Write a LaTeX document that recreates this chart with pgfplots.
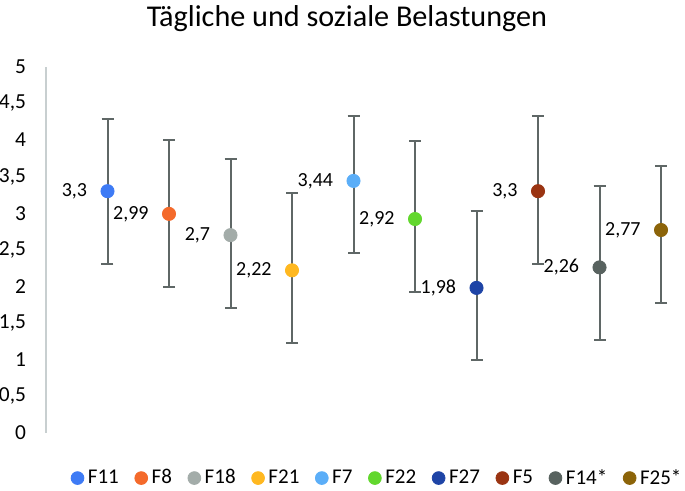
\documentclass[border=0pt]{standalone}
\usepackage{fontspec}
\setmainfont{Carlito}
\usepackage{pgfplots}
\pgfplotsset{compat=1.18}
\definecolor{cF11}{HTML}{3E7BF5}
\definecolor{cF8}{HTML}{F46A2B}
\definecolor{cF18}{HTML}{A3ACA9}
\definecolor{cF21}{HTML}{FFB820}
\definecolor{cF7}{HTML}{5BAEF8}
\definecolor{cF22}{HTML}{62D72E}
\definecolor{cF27}{HTML}{1E44A6}
\definecolor{cF5}{HTML}{9A3412}
\definecolor{cF14}{HTML}{58625F}
\definecolor{cF25}{HTML}{8C6409}
\definecolor{errgray}{HTML}{5F6766}
\definecolor{axisgray}{HTML}{C8CFD0}
\pgfplotsset{
  pt/.style={only marks, mark=*, mark size=3.3pt, color=#1, mark options={fill=#1, draw=#1},
    nodes near coords={\pgfmathprintnumber{\pgfplotspointmeta}},
    point meta=y,
    every node near coord/.append style={anchor=east, xshift=-6.7pt, text=black,
      font=\fontsize{10}{12}\selectfont,
      /pgf/number format/.cd, use comma, assume math mode=true}}
}
\begin{document}
\begin{tikzpicture}
\begin{axis}[
  scale only axis, width=319.5pt, height=183.2pt,
  xmin=0, xmax=10.39, ymin=0, ymax=5,
  axis x line=none, axis y line*=left,
  y axis line style={-, draw=axisgray, line width=0.75pt},
  ytick={0,0.5,1,1.5,2,2.5,3,3.5,4,4.5,5},
  major tick length=0pt,
  yticklabel style={font=\fontsize{10.7}{13}\selectfont, xshift=-6.5pt, text=black},
  /pgf/number format/.cd, use comma, fixed, assume math mode=true, /pgfplots/.cd,
  clip=false,
  legend columns=10,
  legend image code/.code={\draw[#1, mark size=3.2pt] plot coordinates {(0cm,0cm)};},
  legend style={at={(0.52,-0.123)}, anchor=center, draw=none, fill=none,
    font=\fontsize{10.5}{12}\selectfont,
    /tikz/every even column/.append style={column sep=6pt}},
]
\coordinate (O) at (rel axis cs:0,0);
\addplot[only marks, mark=none, forget plot,
  error bars/.cd, y dir=both, y explicit,
  error bar style={draw=errgray, line width=1pt},
  error mark options={rotate=90, mark size=3pt, line width=1pt, draw=errgray}]
  table[x=x, y=y, y error plus=ep, y error minus=em] {
  x y ep em
  1 3.30 0.98 0.99
  2 2.99 1.01 1.00
  3 2.70 1.04 0.99
  4 2.22 1.06 0.99
  5 3.44 0.88 0.99
  6 2.92 1.06 0.99
  7 1.98 1.05 0.99
  8 3.30 1.03 0.99
  9 2.26 1.11 0.99
  10 2.77 0.87 0.99
  };
\addplot[pt=cF11] coordinates {(1,3.30)}; \addlegendentry{F11}
\addplot[pt=cF8] coordinates {(2,2.99)}; \addlegendentry{F8}
\addplot[pt=cF18] coordinates {(3,2.70)}; \addlegendentry{F18}
\addplot[pt=cF21] coordinates {(4,2.22)}; \addlegendentry{F21}
\addplot[pt=cF7] coordinates {(5,3.44)}; \addlegendentry{F7}
\addplot[pt=cF22] coordinates {(6,2.92)}; \addlegendentry{F22}
\addplot[pt=cF27] coordinates {(7,1.98)}; \addlegendentry{F27}
\addplot[pt=cF5] coordinates {(8,3.30)}; \addlegendentry{F5}
\addplot[pt=cF14] coordinates {(9,2.26)}; \addlegendentry{F14*}
\addplot[pt=cF25] coordinates {(10,2.77)}; \addlegendentry{F25*}
\end{axis}
\node[font=\fontsize{15.1}{18}\selectfont] at ([xshift=150.5pt, yshift=207pt]O) {Tägliche und soziale Belastungen};
\pgfresetboundingbox
\path[use as bounding box] ([xshift=-23pt, yshift=-29pt]O) rectangle ++(342.5pt,245.5pt);
\end{tikzpicture}
\end{document}
